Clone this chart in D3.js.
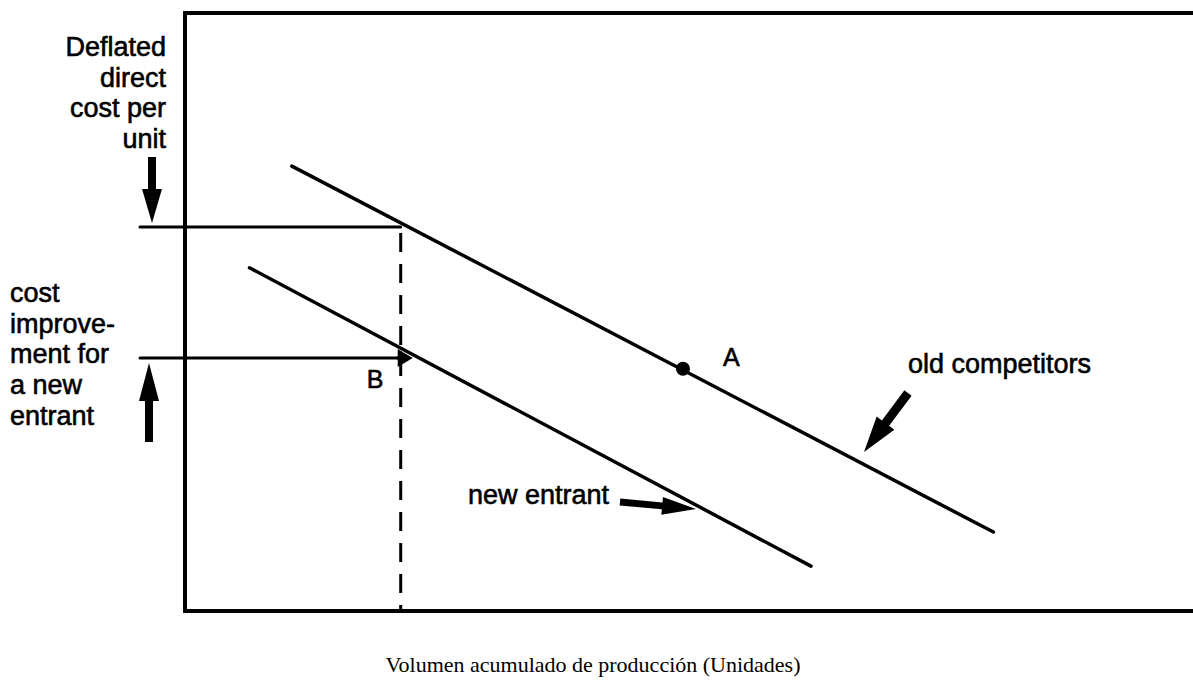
<!DOCTYPE html>
<html>
<head>
<meta charset="UTF-8">
<script src="https://d3js.org/d3.v7.min.js"></script>
<style>
  body { margin: 0; background: #fff; }
  svg text { fill: #000; }
  .lbl { font-family: "Liberation Sans", Arial, sans-serif; font-size: 27px; stroke: #000; stroke-width: 0.6px; }
  .title { font-family: "Liberation Serif", "Times New Roman", serif; font-size: 22px; }
</style>
</head>
<body>
<svg id="chart" width="1193" height="687"></svg>
<script>
// experience curve sketch: volume (x) vs deflated unit cost (y), arbitrary units
const curveNames = ["old competitors", "new entrant"];
const oldCompetitors = [[10.6, 74.4], [80.2, 13.2]];
const newEntrant = [[6.4, 57.4], [62.1, 7.5]];
const pointA = [49.4, 40.5];
const volumeB = 21.4;      // cumulative volume where the entrant starts
const costOld = 64.2;      // old competitors' cost at that volume
const costNew = 42.3;      // new entrant's cost at that volume
const leftLabelTop = ["Deflated", "direct", "cost per", "unit"];
const leftLabelBottom = ["cost", "improve-", "ment for", "a new", "entrant"];
const xTitle = "Volumen acumulado de producción (Unidades)";

const svg = d3.select("#chart");
const margin = { top: 13, right: 0, bottom: 76, left: 185 };
const width = +svg.attr("width") - margin.left - margin.right,
      height = +svg.attr("height") - margin.top - margin.bottom;

const x = d3.scaleLinear().domain([0, 100]).range([margin.left, margin.left + width]);
const y = d3.scaleLinear().domain([0, 100]).range([margin.top + height, margin.top]);

const line = d3.line().x(d => x(d[0])).y(d => y(d[1]));

// frame: left, top and bottom (right side runs off the page)
svg.append("path")
  .attr("d", "M" + x(100) + "," + y(100) + "H" + x(0) + "V" + y(0) + "H" + x(100))
  .attr("fill", "none").attr("stroke", "#000").attr("stroke-width", 4);

// filled arrow built from shaft + head
function arrow(x1, y1, x2, y2, shaft, headW, headL) {
  const dx = x2 - x1, dy = y2 - y1, len = Math.hypot(dx, dy);
  const ux = dx / len, uy = dy / len, px = -uy, py = ux;
  const bx = x2 - ux * headL, by = y2 - uy * headL;
  const pts = [
    [x1 + px * shaft / 2, y1 + py * shaft / 2],
    [bx + px * shaft / 2, by + py * shaft / 2],
    [bx + px * headW / 2, by + py * headW / 2],
    [x2, y2],
    [bx - px * headW / 2, by - py * headW / 2],
    [bx - px * shaft / 2, by - py * shaft / 2],
    [x1 - px * shaft / 2, y1 - py * shaft / 2]
  ];
  svg.append("path").attr("d", "M" + pts.join("L") + "Z").attr("fill", "#000");
}

// dashed volume marker
svg.append("line")
  .attr("x1", x(volumeB)).attr("x2", x(volumeB))
  .attr("y1", y(costOld)).attr("y2", y(0))
  .attr("stroke", "#000").attr("stroke-width", 3)
  .attr("stroke-dasharray", "19,12").attr("stroke-dashoffset", -6);

// cost levels
svg.append("line")
  .attr("x1", x(0) - 45).attr("x2", x(volumeB))
  .attr("y1", y(costOld)).attr("y2", y(costOld))
  .attr("stroke", "#000").attr("stroke-width", 3).attr("stroke-linecap", "round");
svg.append("line")
  .attr("x1", x(0) - 45).attr("x2", x(volumeB))
  .attr("y1", y(costNew)).attr("y2", y(costNew))
  .attr("stroke", "#000").attr("stroke-width", 3).attr("stroke-linecap", "round");
arrow(x(volumeB) - 4, y(costNew), x(volumeB) + 12, y(costNew), 3, 18, 15);

// experience curves
[oldCompetitors, newEntrant].forEach((d, i) => {
  svg.append("path").datum(d)
    .attr("class", "curve " + curveNames[i].replace(" ", "-"))
    .attr("d", line)
    .attr("fill", "none").attr("stroke", "#000")
    .attr("stroke-width", 3.5).attr("stroke-linecap", "round");
});

svg.append("circle").attr("cx", x(pointA[0])).attr("cy", y(pointA[1])).attr("r", 7).attr("fill", "#000");
svg.append("text").attr("class", "lbl").attr("x", x(pointA[0]) + 40).attr("y", y(pointA[1]) - 3).style("font-size", "25px").text("A");
svg.append("text").attr("class", "lbl").attr("x", x(volumeB) - 34).attr("y", y(costNew) + 30).style("font-size", "25px").text("B");

// left labels
svg.append("text").attr("class", "lbl").attr("text-anchor", "end")
  .selectAll("tspan").data(leftLabelTop).join("tspan")
  .attr("x", 166).attr("y", (d, i) => 56 + i * 30.7).text(d => d);
arrow(152, 157, 152, y(costOld) - 4, 8, 20, 34);

svg.append("text").attr("class", "lbl")
  .selectAll("tspan").data(leftLabelBottom).join("tspan")
  .attr("x", 10).attr("y", (d, i) => 302 + i * 30.7).text(d => d);
arrow(149, 442, 149, y(costNew) + 5, 8, 20, 38);

// curve labels with arrows
svg.append("text").attr("class", "lbl").attr("x", 908).attr("y", 373).text(curveNames[0]);
arrow(908, 393, 864, 452, 9, 22, 36);
svg.append("text").attr("class", "lbl").attr("x", 468).attr("y", 504).text(curveNames[1]);
arrow(620, 502, 696, 509, 7, 18, 34);

// x axis title
svg.append("text").attr("class", "title").attr("text-anchor", "middle")
  .attr("x", 593).attr("y", 672).text(xTitle);
</script>
</body>
</html>
